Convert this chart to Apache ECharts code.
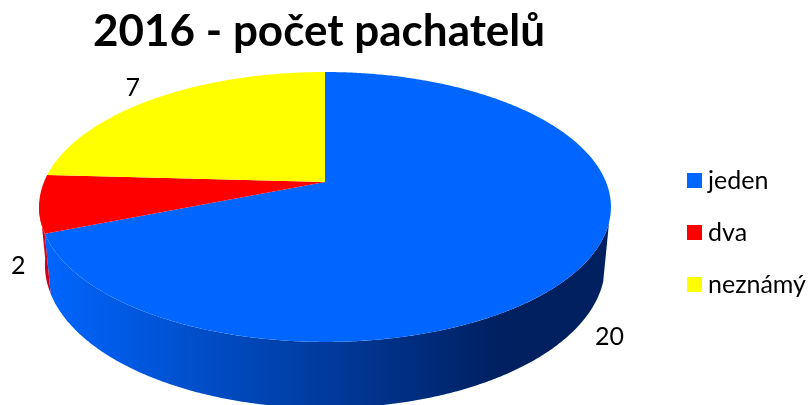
<!DOCTYPE html>
<html>
<head>
<meta charset="utf-8">
<style>html,body{margin:0;padding:0;background:#fff}#c{width:810px;height:405px}</style>
<script src="https://cdn.jsdelivr.net/npm/echarts@6/dist/echarts.min.js"></script>
</head>
<body>
<div id="c"></div>
<script>
const titleText = '2016 - počet pachatelů';
const categories = ['jeden', 'dva', 'neznámý'];
const values = [20, 2, 7];
const colors = ['#0066ff', '#ff0000', '#ffff00'];

const total = values.reduce((a, b) => a + b, 0);
// perspective projection of the circular pie: top face and bottom rim
function projector(cx, yc, a, c, k) {
  return deg => {
    const t = deg * Math.PI / 180, u = Math.sin(t), v = -Math.cos(t), d = 1 + c * v;
    return [cx + k * u / d, (a * v + yc) / d];
  };
}
const topRim = projector(325, 182, 96.67, -0.185, 281);
const botRim = projector(325, 239, 94.8, -0.182, 275.4);
const arc = (fn, from, to) => {
  const n = Math.max(2, Math.ceil(Math.abs(to - from) * 2)), pts = [];
  for (let i = 0; i <= n; i++) pts.push(fn(from + (to - from) * i / n));
  return pts;
};
const startAngle = i => values.slice(0, i).reduce((a, b) => a + b, 0) / total * 360;
const endAngle = i => startAngle(i + 1);

const labelOffset = [[25, 73], [-21, 62], [-22, -11]];
const wallFrom = 107, wallTo = 262;

function sliceSeries(i) {
  return {
    name: categories[i],
    type: 'custom',
    coordinateSystem: 'none',
    itemStyle: { color: colors[i] },
    silent: true,
    data: [values[i]],
    renderItem() {
      const s = startAngle(i), e = endAngle(i), mid = (s + e) / 2;
      const p = topRim(mid);
      return {
        type: 'group',
        children: [
          { type: 'polygon', shape: { points: [[325, 182]].concat(arc(topRim, s, e)) },
            style: { fill: colors[i] } },
          { type: 'text', style: { text: String(values[i]), x: p[0] + labelOffset[i][0], y: p[1] + labelOffset[i][1],
            fill: '#000', font: '25px Lato', textAlign: 'center', textVerticalAlign: 'middle' } }
        ]
      };
    }
  };
}

const wallSeries = {
  name: 'bok',
  type: 'custom',
  coordinateSystem: 'none',
  silent: true,
  data: [0],
  renderItem() {
    const b = endAngle(0);
    const wall = (from, to) => arc(topRim, from, to).concat(arc(botRim, to, from));
    return {
      type: 'group',
      children: [
        { type: 'polygon', shape: { points: wall(wallFrom, b) },
          style: { fill: new echarts.graphic.LinearGradient(45, 0, 500, 0, [
            { offset: 0, color: '#0066ff' }, { offset: 1, color: '#002060' }], true) } },
        { type: 'polygon', shape: { points: wall(b, wallTo) }, style: { fill: '#d0001c' } }
      ]
    };
  }
};

const chart = echarts.init(document.getElementById('c'), null, { renderer: 'canvas' });
chart.setOption({
  animation: false,
  backgroundColor: '#fff',
  title: { text: titleText, left: 88, top: 5,
    textStyle: { fontFamily: 'Lato', fontWeight: 'bold', fontSize: 44, color: '#000' } },
  legend: {
    data: categories, orient: 'vertical', left: 687, top: 168, itemWidth: 15, itemHeight: 15, itemGap: 27,
    icon: 'rect', selectedMode: false, padding: 0,
    textStyle: { fontFamily: 'Lato', fontSize: 25, color: '#000', padding: [0, 0, 0, 1], height: 25, lineHeight: 25 }
  },
  series: [wallSeries].concat(categories.map((_, i) => sliceSeries(i)))
});
</script>
</body>
</html>
